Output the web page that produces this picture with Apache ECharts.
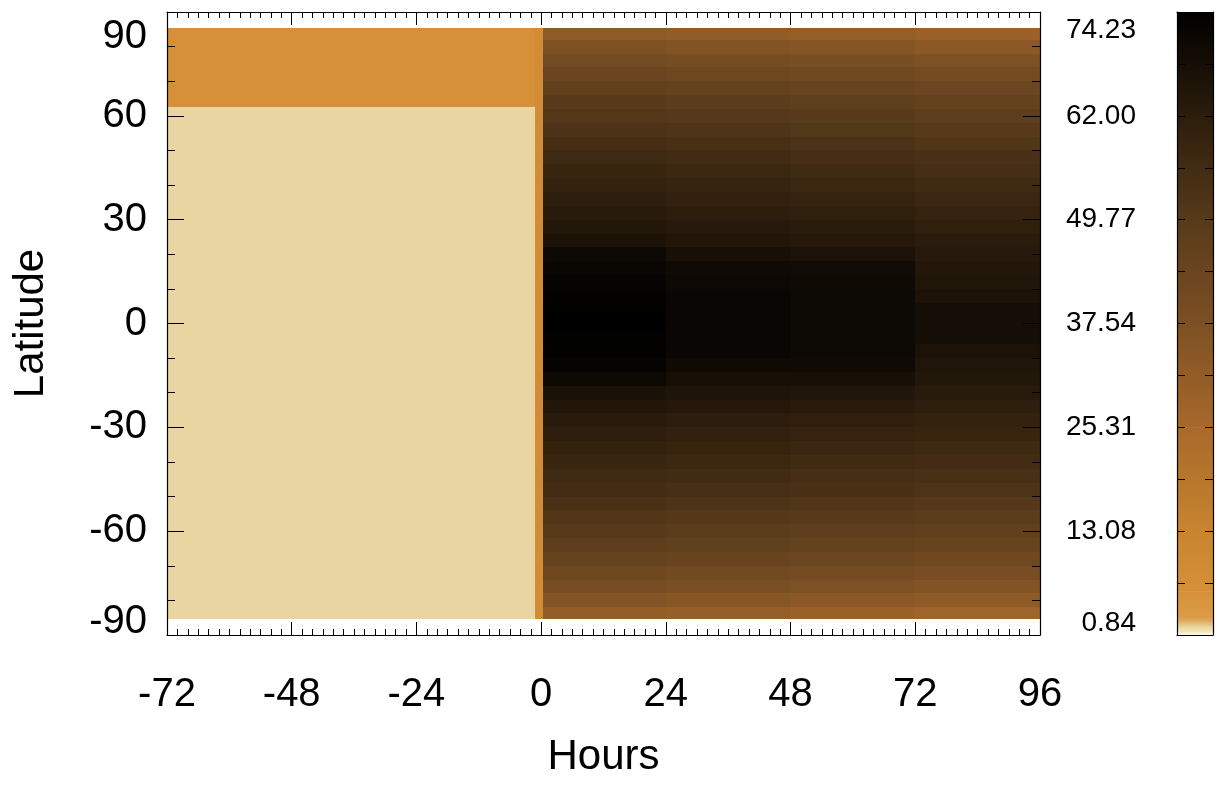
<!DOCTYPE html>
<html>
<head>
<meta charset="utf-8">
<script src="https://cdn.jsdelivr.net/npm/echarts@6/dist/echarts.min.js"></script>
<style>
html,body{margin:0;padding:0;background:#ffffff;}
#c{width:1217px;height:785px;}
</style>
</head>
<body>
<div id="c"></div>
<script>
// ---------- tick labels ----------
const hourTicks = [-72, -48, -24, 0, 24, 48, 72, 96];
const latTicks = [-90, -60, -30, 0, 30, 60, 90];
const colorbarTicks = [0.84, 13.08, 25.31, 37.54, 49.77, 62.00, 74.23];
const colorbarMinorTicks = [6.96, 19.19, 31.43, 43.66, 55.88, 68.12];

// ---------- colour scale ----------
const scaleValues = [0.84, 1.3, 1.8, 2.8, 6.0, 13.08, 25.31, 37.54, 49.77, 62.00, 74.23];
const scaleColors = ['#fffdf2', '#f3e4b5', '#e9d5a1', '#dc9c48', '#d69038', '#c8842f',
                     '#a8692a', '#7c5024', '#573a1a', '#2c1d0c', '#000000'];

// ---------- before onset (hours < 0) ----------
const blockHourFrom = [-72, -72, -1.2];
const blockHourTo   = [-1.2, -1.2, 0.4];
const blockLatFrom  = [-85.5, 62.5, -85.5];
const blockLatTo    = [62.5, 85.5, 85.5];
const blockValue    = [1.8, 6.0, 8.5];

// ---------- after onset (hours >= 0) ----------
const periodEdges = [0, 24, 48, 72, 96];
const latEdges = [-85.5, -82, -78, -74, -70, -66, -62, -58, -54, -50, -46, -42, -38, -34, -30,
  -26, -22, -18, -14, -10, -6, -2, 2, 6, 10, 14, 18, 22, 26, 30, 34, 38, 42, 46, 50, 54, 58,
  62, 66, 70, 74, 78, 82, 85.5];

// values per latitude row (south to north), one array per 24 h period
const hours0to24 = [31, 35.5, 39, 42, 45, 47.5, 49.5, 51.5, 53.5, 55.5, 57, 58.5, 60, 61.5, 63, 65, 67,
  71, 72.5, 73.5, 74, 74.2,
  74, 73.5, 72.5, 71.5, 70.5, 66.5, 64.5, 63, 61.5, 60, 58.5, 57, 55, 53, 51, 49, 46.5, 43.5, 40.5, 37, 32.5];
const hours24to48 = [30, 34.5, 38, 41, 44, 46.5, 48.5, 50.5, 52.5, 54.5, 56, 57.5, 59, 60.5, 62, 64, 66,
  68, 70, 71.5, 71.5, 71.5,
  71.5, 71.5, 71, 70, 67.5, 65, 63.5, 62, 60.5, 59, 57.5, 56, 54, 52, 50, 48, 45.5, 42.5, 39.5, 36, 31.5];
const hours48to72 = [29, 33.5, 37, 40, 43, 45.5, 47.5, 49.5, 51.5, 53.5, 55, 56.5, 58, 59.5, 61, 63, 65,
  67.5, 70, 70.5, 70.5, 70.5,
  70.5, 70.5, 70, 69.5, 66.5, 64, 62.5, 61, 59.5, 58, 56.5, 55, 53, 51, 49, 47, 44.5, 41.5, 38.5, 35, 30.5];
const hours72to96 = [28, 32.5, 36, 39, 42, 44.5, 46.5, 48.5, 50.5, 52.5, 54, 55.5, 57, 58.5, 60, 61.5, 63,
  64.5, 65.5, 66.5, 68.5, 68.5,
  68.5, 66.5, 65.5, 64.5, 63.5, 62.5, 61, 59.5, 58, 56.5, 55, 53.5, 51.5, 49.5, 47.5, 45.5, 43, 40, 37, 33.5, 29];
const periodValues = [hours0to24, hours24to48, hours48to72, hours72to96];

// ---------- colour mapping ----------
function hexToRgb(h) {
  const n = parseInt(h.slice(1), 16);
  return [(n >> 16) & 255, (n >> 8) & 255, n & 255];
}
const scaleRgb = scaleColors.map(hexToRgb);
function colorOf(v) {
  if (v <= scaleValues[0]) return scaleColors[0];
  const last = scaleValues.length - 1;
  if (v >= scaleValues[last]) return scaleColors[last];
  let i = 0;
  while (v > scaleValues[i + 1]) i++;
  const t = (v - scaleValues[i]) / (scaleValues[i + 1] - scaleValues[i]);
  const a = scaleRgb[i], b = scaleRgb[i + 1];
  const c = [0, 1, 2].map(k => Math.round(a[k] + (b[k] - a[k]) * t));
  return 'rgb(' + c.join(',') + ')';
}

// ---------- build cells ----------
const cells = [];
for (let c = 0; c < periodValues.length; c++) {
  for (let r = 0; r < latEdges.length - 1; r++) {
    cells.push([periodEdges[c], periodEdges[c + 1], latEdges[r], latEdges[r + 1], periodValues[c][r]]);
  }
}
for (let i = 0; i < blockValue.length; i++) {
  cells.push([blockHourFrom[i], blockHourTo[i], blockLatFrom[i], blockLatTo[i], blockValue[i]]);
}
const barSegments = [];
for (let i = 0; i < scaleValues.length - 1; i++) {
  barSegments.push([0, scaleValues[i], scaleValues[i + 1]]);
}

const FONT = '"Liberation Sans", Arial, Helvetica, sans-serif';
const black = '#000000';
const axisLine = { show: true, onZero: false, lineStyle: { color: black, width: 1.2 } };
const tickStyle = { color: black, width: 1 };

function latFormatter(v) {
  if (v === latTicks[latTicks.length - 1]) return '{top|' + v + '}';
  if (v === latTicks[0]) return '{bot|' + v + '}';
  return String(v);
}
function cbFormatter(v) {
  const s = v.toFixed(2);
  if (v === colorbarTicks[colorbarTicks.length - 1]) return '{top|' + s + '}';
  if (v === colorbarTicks[0]) return '{bot|' + s + '}';
  return s;
}

const chart = echarts.init(document.getElementById('c'), null, { renderer: 'canvas', width: 1217, height: 785 });

const option = {
  backgroundColor: '#ffffff',
  animation: false,
  textStyle: { fontFamily: FONT, color: black },
  grid: [
    { left: 167, top: 12, width: 873, height: 623, containLabel: false, outerBoundsMode: 'none' },
    { left: 1177, top: 12, width: 36, height: 623, containLabel: false, outerBoundsMode: 'none' }
  ],
  xAxis: [
    {
      gridIndex: 0, type: 'value', position: 'bottom', min: hourTicks[0], max: hourTicks[hourTicks.length - 1],
      interval: hourTicks[1] - hourTicks[0], z: 5,
      axisLine: axisLine,
      axisTick: { show: true, inside: true, length: 13, lineStyle: tickStyle },
      minorTick: { show: true, splitNumber: 12, length: 6, lineStyle: tickStyle },
      splitLine: { show: false }, minorSplitLine: { show: false },
      axisLabel: { show: true, fontSize: 40, margin: 40, color: black, fontFamily: FONT },
      name: 'Hours', nameLocation: 'middle', nameGap: 101,
      nameTextStyle: { fontSize: 42, color: black, fontFamily: FONT }
    },
    {
      gridIndex: 0, type: 'value', position: 'top', min: hourTicks[0], max: hourTicks[hourTicks.length - 1],
      interval: hourTicks[1] - hourTicks[0], z: 5,
      axisLine: axisLine,
      axisTick: { show: true, inside: true, length: 13, lineStyle: tickStyle },
      minorTick: { show: true, splitNumber: 12, length: 6, lineStyle: tickStyle },
      splitLine: { show: false }, minorSplitLine: { show: false },
      axisLabel: { show: false }
    },
    {
      gridIndex: 1, type: 'value', position: 'bottom', min: 0, max: 1, z: 5,
      axisLine: axisLine, axisTick: { show: false }, axisLabel: { show: false }, splitLine: { show: false }
    },
    {
      gridIndex: 1, type: 'value', position: 'top', min: 0, max: 1, z: 5,
      axisLine: axisLine, axisTick: { show: false }, axisLabel: { show: false }, splitLine: { show: false }
    }
  ],
  yAxis: [
    {
      gridIndex: 0, type: 'value', position: 'left', min: latTicks[0], max: latTicks[latTicks.length - 1],
      interval: latTicks[1] - latTicks[0], z: 5,
      axisLine: axisLine,
      axisTick: { show: true, inside: true, length: 17, lineStyle: tickStyle },
      minorTick: { show: true, splitNumber: 3, length: 8, lineStyle: tickStyle },
      splitLine: { show: false }, minorSplitLine: { show: false },
      axisLabel: {
        show: true, fontSize: 40, margin: 20, color: black, fontFamily: FONT,
        formatter: latFormatter,
        verticalAlignMaxLabel: 'top', verticalAlignMinLabel: 'bottom',
        rich: {
          top: { fontSize: 40, lineHeight: 50, color: black, fontFamily: FONT },
          bot: { fontSize: 40, lineHeight: 26, color: black, fontFamily: FONT }
        }
      },
      name: 'Latitude', nameLocation: 'middle', nameGap: 115, nameRotate: 90,
      nameTextStyle: { fontSize: 42, color: black, fontFamily: FONT }
    },
    {
      gridIndex: 0, type: 'value', position: 'right', min: latTicks[0], max: latTicks[latTicks.length - 1],
      interval: latTicks[1] - latTicks[0], z: 5,
      axisLine: axisLine,
      axisTick: { show: true, inside: true, length: 17, lineStyle: tickStyle },
      minorTick: { show: true, splitNumber: 3, length: 8, lineStyle: tickStyle },
      splitLine: { show: false }, minorSplitLine: { show: false },
      axisLabel: { show: false }
    },
    {
      gridIndex: 1, type: 'value', position: 'left',
      min: colorbarTicks[0], max: colorbarTicks[colorbarTicks.length - 1], z: 5,
      axisLine: axisLine,
      axisTick: { show: true, inside: true, length: 8, lineStyle: tickStyle,
                  customValues: colorbarTicks.concat(colorbarMinorTicks) },
      splitLine: { show: false },
      axisLabel: {
        show: true, fontSize: 28, margin: 41, color: black, fontFamily: FONT,
        customValues: colorbarTicks, formatter: cbFormatter,
        verticalAlignMaxLabel: 'top', verticalAlignMinLabel: 'bottom',
        rich: {
          top: { fontSize: 28, lineHeight: 36, color: black, fontFamily: FONT },
          bot: { fontSize: 28, lineHeight: 24, color: black, fontFamily: FONT }
        }
      }
    },
    {
      gridIndex: 1, type: 'value', position: 'right',
      min: colorbarTicks[0], max: colorbarTicks[colorbarTicks.length - 1], z: 5,
      axisLine: axisLine,
      axisTick: { show: true, inside: true, length: 8, lineStyle: tickStyle,
                  customValues: colorbarTicks.concat(colorbarMinorTicks) },
      splitLine: { show: false },
      axisLabel: { show: false }
    }
  ],
  series: [
    {
      type: 'custom', xAxisIndex: 0, yAxisIndex: 0, silent: true, clip: true, z: 2,
      encode: { x: [0, 1], y: [2, 3] },
      data: cells,
      renderItem: function (params, api) {
        const p0 = api.coord([api.value(0), api.value(3)]);
        const p1 = api.coord([api.value(1), api.value(2)]);
        const x0 = Math.round(p0[0]), y0 = Math.round(p0[1]);
        const x1 = Math.round(p1[0]), y1 = Math.round(p1[1]);
        return {
          type: 'rect',
          shape: { x: x0, y: y0, width: x1 - x0, height: y1 - y0 },
          style: { fill: colorOf(api.value(4)), stroke: null }
        };
      }
    },
    {
      type: 'custom', xAxisIndex: 2, yAxisIndex: 2, silent: true, clip: true, z: 2,
      encode: { x: 0, y: [1, 2] },
      data: barSegments,
      renderItem: function (params, api) {
        const v0 = api.value(1), v1 = api.value(2);
        const top = api.coord([0, v1]);
        const bottom = api.coord([0, v0]);
        const cs = params.coordSys;
        return {
          type: 'rect',
          shape: { x: cs.x, y: top[1], width: cs.width, height: bottom[1] - top[1] + 0.5 },
          style: {
            fill: {
              type: 'linear', x: 0, y: 0, x2: 0, y2: 1,
              colorStops: [{ offset: 0, color: colorOf(v1) }, { offset: 1, color: colorOf(v0) }]
            },
            stroke: null
          }
        };
      }
    }
  ]
};
chart.setOption(option);
</script>
</body>
</html>
